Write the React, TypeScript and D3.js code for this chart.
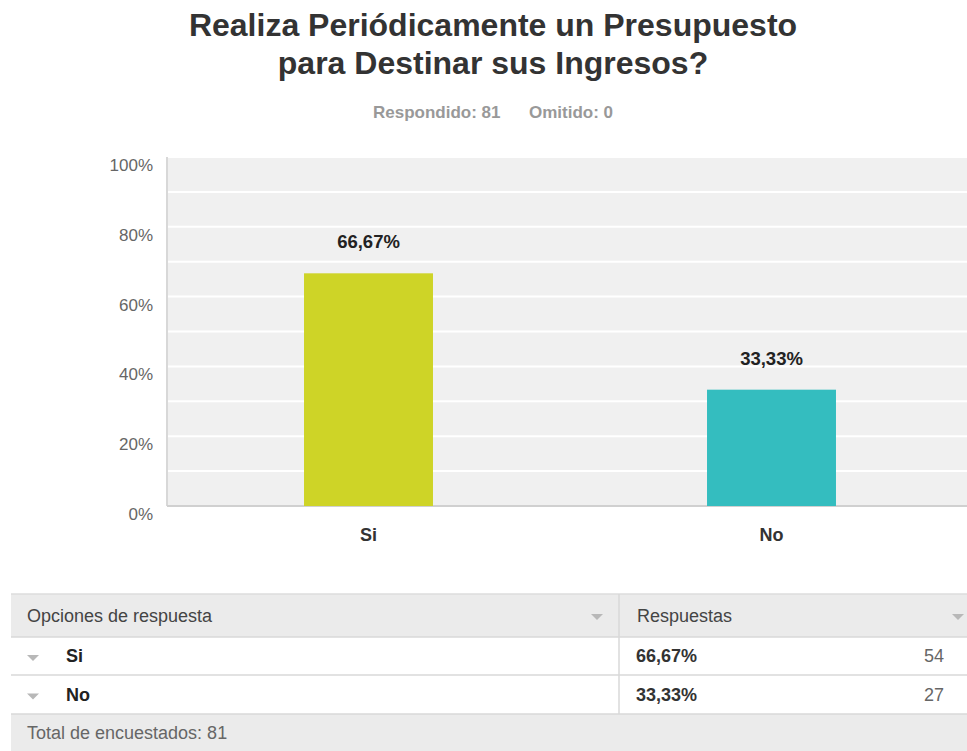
import React from "react";
import * as d3 from "d3";

const title = ["Realiza Periódicamente un Presupuesto", "para Destinar sus Ingresos?"];
const subtitle = ["Respondido: 81", "Omitido: 0"];
const categories = ["Si", "No"];
const percents = [66.67, 33.33];
const counts = [54, 27];
const colors = ["#ced427", "#34bdbf"];
const yTicks = [0, 20, 40, 60, 80, 100];
const gridTicks = [10, 20, 30, 40, 50, 60, 70, 80, 90, 100];
const tableHeaders = ["Opciones de respuesta", "Respuestas"];
const totalLabel = "Total de encuestados: 81";

const W = 967;
const H = 751;
const FONT = "'Liberation Sans', Arial, Helvetica, sans-serif";
const fmt = (v: number) => v.toFixed(2).replace(".", ",") + "%";

export default function App() {
  const plotL = 167;
  const plotR = 973;
  const y = d3.scaleLinear().domain([0, 100]).range([506, 157]);
  const x = d3.scaleBand<string>().domain(categories).range([plotL, plotR]).padding(0);
  const barW = x.bandwidth() * 0.32;

  const tblL = 11;
  const tblR = 967;
  const colX = 619;
  const rowTops = [594, 637, 675, 714, 751];

  const tri = (cx: number, cy: number) => `M${cx - 6},${cy - 3}L${cx + 6},${cy - 3}L${cx},${cy + 3}Z`;

  return (
    <svg width={W} height={H} style={{ position: "absolute", left: 0, top: 0 }} fontFamily={FONT}>
      <rect x={0} y={0} width={W} height={H} fill="#ffffff" />
      {title.map((t, i) => (
        <text key={t} x={493} y={36 + i * 38} textAnchor="middle" fontSize={32} fontWeight="bold" fill="#333333">
          {t}
        </text>
      ))}
      <text x={373} y={118} fontSize={17} fontWeight="bold" fill="#999999">{subtitle[0]}</text>
      <text x={529} y={118} fontSize={17} fontWeight="bold" fill="#999999">{subtitle[1]}</text>

      <rect x={plotL} y={y(100)} width={plotR - plotL} height={y(0) - y(100)} fill="#f0f0f0" />
      {gridTicks.map((t) => (
        <line key={t} x1={plotL} x2={plotR} y1={y(t)} y2={y(t)} stroke="#ffffff" strokeWidth={2} />
      ))}
      <line x1={plotL} x2={plotL} y1={y(100)} y2={y(0)} stroke="#d8d8d8" strokeWidth={2} />
      <line x1={plotL} x2={plotR} y1={y(0)} y2={y(0)} stroke="#d0d0d0" strokeWidth={2} />
      {yTicks.map((t) => (
        <text key={t} x={153} y={y(t) + 14} textAnchor="end" fontSize={17} fill="#666666">
          {t}%
        </text>
      ))}
      {categories.map((c, i) => {
        const cx = (x(c) as number) + x.bandwidth() / 2;
        return (
          <g key={c}>
            <rect x={cx - barW / 2} y={y(percents[i])} width={barW} height={y(0) - y(percents[i])} fill={colors[i]} />
            <text x={cx} y={y(percents[i]) - 25} textAnchor="middle" fontSize={18.5} fontWeight="bold" fill="#222222">
              {fmt(percents[i])}
            </text>
            <text x={cx} y={541} textAnchor="middle" fontSize={18} fontWeight="bold" fill="#333333">
              {c}
            </text>
          </g>
        );
      })}

      <rect x={tblL} y={rowTops[0]} width={tblR - tblL} height={rowTops[1] - rowTops[0]} fill="#ebebeb" />
      <rect x={tblL} y={rowTops[3]} width={tblR - tblL} height={rowTops[4] - rowTops[3]} fill="#ebebeb" />
      <line x1={tblL} x2={tblR} y1={rowTops[0]} y2={rowTops[0]} stroke="#dddddd" strokeWidth={1.5} />
      {rowTops.slice(1, 4).map((t) => (
        <line key={t} x1={tblL} x2={tblR} y1={t} y2={t} stroke="#d8d8d8" strokeWidth={1.5} />
      ))}
      <line x1={colX} x2={colX} y1={rowTops[0]} y2={rowTops[3]} stroke="#d8d8d8" strokeWidth={1.5} />
      <text x={27} y={622} fontSize={18} fill="#444444">{tableHeaders[0]}</text>
      <path d={tri(597, 617)} fill="#b8b8b8" />
      <text x={637} y={622} fontSize={18} fill="#444444">{tableHeaders[1]}</text>
      <path d={tri(958, 617)} fill="#b8b8b8" />
      {categories.map((c, i) => {
        const cy = (rowTops[i + 1] + rowTops[i + 2]) / 2;
        return (
          <g key={c}>
            <path d={tri(33, cy + 2)} fill="#b8b8b8" />
            <text x={66} y={cy + 6} fontSize={18} fontWeight="bold" fill="#222222">{c}</text>
            <text x={636} y={cy + 6} fontSize={18} fontWeight="bold" fill="#333333">{fmt(percents[i])}</text>
            <text x={944} y={cy + 6} textAnchor="end" fontSize={18} fill="#666666">{counts[i]}</text>
          </g>
        );
      })}
      <text x={27} y={739} fontSize={18} fill="#666666">{totalLabel}</text>
    </svg>
  );
}
